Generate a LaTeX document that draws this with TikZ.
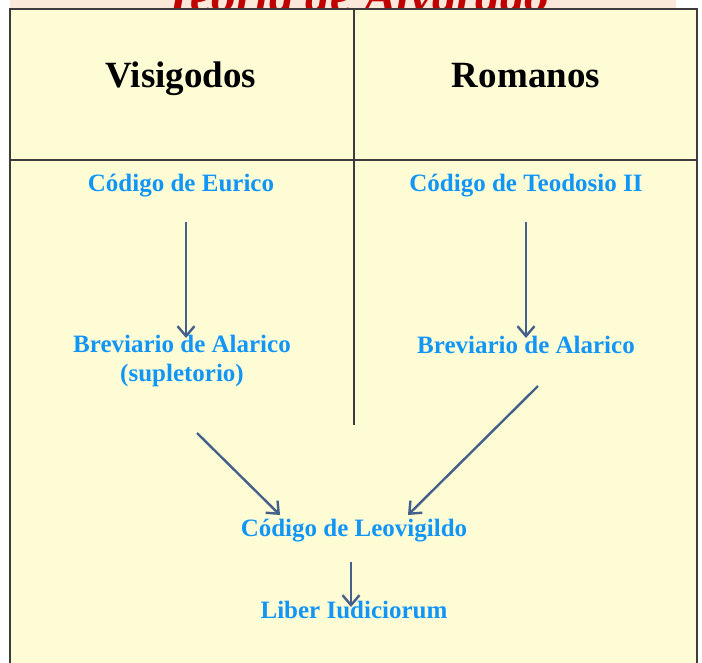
\documentclass[tikz,border=0pt]{standalone}
\usepackage{fontspec}
\setmainfont{Liberation Serif}
\usetikzlibrary{arrows.meta}
\definecolor{boxfill}{HTML}{FEFCD4}
\definecolor{bandfill}{HTML}{FCE8DA}
\definecolor{titlered}{HTML}{C00000}
\definecolor{lblue}{HTML}{1196F8}
\definecolor{arrowc}{HTML}{45608A}
\definecolor{framec}{HTML}{3C3C3C}
\tikzset{
  head/.style={font=\fontsize{37}{40}\selectfont\bfseries, text=black, inner sep=0pt, anchor=base},
  lbl/.style={font=\fontsize{25}{28.5}\selectfont\bfseries, text=lblue, inner sep=0pt, anchor=base, align=center},
  flow/.style={draw=arrowc, line width=2.4pt, -{Straight Barb[length=10pt,width=17pt,line width=2.4pt]}},
  rule/.style={draw=framec, line width=1.6pt}
}
\begin{document}
\begin{tikzpicture}[x=1pt,y=-1pt]
\useasboundingbox (0,0) rectangle (702,662);
\clip (0,0) rectangle (702,662);
% title band (cut off at the top, as in the reference)
\fill[bandfill] (10,-5) rectangle (676,10);
\node[font=\fontsize{49}{52}\selectfont\bfseries\itshape, text=titlered, inner sep=0pt, anchor=base] (title) at (357,12) {Teoría de Alvarado};
% main frame
\filldraw[fill=boxfill, draw=framec, line width=2.2pt] (10,9) rectangle (697,680);
\draw[rule] (10,160) -- (697,160);
\draw[rule] (354,9) -- (354,425);
% headers
\node[head] (visi) at (181,87) {Visigodos};
\node[head] (roma) at (526,87) {Romanos};
% labels
\node[lbl] (eurico) at (181,191) {Código de Eurico};
\node[lbl] (teod) at (526,191) {Código de Teodosio II};
\node[lbl] (brevL) at (182,381) {Breviario de Alarico\\(supletorio)};
\node[lbl] (brevR) at (526,353) {Breviario de Alarico};
\node[lbl] (leov) at (354,536) {Código de Leovigildo};
\node[lbl] (liber) at (354,618) {Liber Iudiciorum};
% connector end points
\coordinate (a1s) at (186,222);
\coordinate (a1e) at (186,338);
\coordinate (a2s) at (526,222);
\coordinate (a2e) at (526,338);
\coordinate (a3s) at (197,433);
\coordinate (a3e) at (280,515);
\coordinate (a4s) at (538,386);
\coordinate (a4e) at (408,515);
\coordinate (a5s) at (351,562);
\coordinate (a5e) at (351,607);
\draw[flow] (a1s) -- (a1e);
\draw[flow] (a2s) -- (a2e);
\draw[flow] (a3s) -- (a3e);
\draw[flow] (a4s) -- (a4e);
\draw[flow] (a5s) -- (a5e);
\end{tikzpicture}
\end{document}
